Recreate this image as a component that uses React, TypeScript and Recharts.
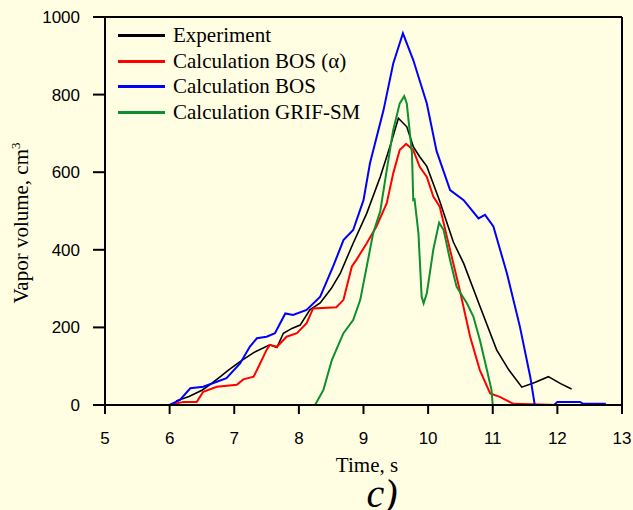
import React from "react";
import { LineChart, Line, XAxis, YAxis, ReferenceLine } from "recharts";

// time (s) and vapor volume (cm3)
const expT = [6.1, 6.3, 6.5, 6.62, 6.8, 6.91, 7.09, 7.3, 7.55, 7.66, 7.76, 7.9, 8.02, 8.17, 8.33, 8.5, 8.64, 8.84, 9.05, 9.26, 9.41, 9.54, 9.67, 9.77, 9.87, 9.98, 10.08, 10.18, 10.3, 10.39, 10.55, 10.8, 11.06, 11.25, 11.45, 11.65, 11.86, 12.05, 12.22];
const expV = [10, 22, 38, 52, 75, 90, 112, 135, 155, 148, 185, 198, 206, 245, 263, 300, 339, 417, 494, 588, 666, 739, 717, 666, 640, 615, 570, 525, 465, 420, 365, 255, 142, 90, 46, 58, 73, 55, 41];

const bosAT = [5, 6.0, 6.21, 6.42, 6.52, 6.73, 7.04, 7.14, 7.3, 7.4, 7.5, 7.55, 7.66, 7.81, 7.97, 8.12, 8.22, 8.58, 8.69, 8.82, 8.89, 9.05, 9.2, 9.36, 9.46, 9.56, 9.66, 9.77, 9.87, 9.98, 10.08, 10.18, 10.29, 10.49, 10.65, 10.8, 10.96, 11.11, 11.32, 12.0];
const bosAV = [0, 0, 8, 8, 34, 47, 52, 66, 73, 107, 142, 155, 150, 176, 185, 211, 249, 252, 271, 357, 374, 417, 460, 520, 597, 657, 673, 657, 614, 588, 537, 511, 434, 296, 176, 90, 30, 21, 3, 0];

const bosT = [5, 6.0, 6.16, 6.32, 6.52, 6.73, 6.88, 7.09, 7.24, 7.35, 7.5, 7.63, 7.79, 7.91, 8.12, 8.33, 8.53, 8.69, 8.84, 9.0, 9.1, 9.31, 9.46, 9.61, 9.77, 9.98, 10.13, 10.34, 10.55, 10.78, 10.88, 11.01, 11.22, 11.42, 11.58, 11.65, 11.95, 12.0, 12.35, 12.4, 12.75];
const bosV = [0, 0, 13, 43, 47, 60, 69, 107, 150, 172, 176, 185, 236, 232, 245, 279, 357, 425, 451, 528, 623, 760, 880, 958, 889, 777, 655, 554, 528, 481, 490, 460, 339, 202, 73, 0, 0, 8, 8, 3, 3];

const grifT = [5, 8.25, 8.38, 8.51, 8.69, 8.84, 8.95, 9.05, 9.15, 9.26, 9.36, 9.46, 9.56, 9.63, 9.67, 9.75, 9.77, 9.79, 9.85, 9.9, 9.93, 9.98, 10.08, 10.17, 10.24, 10.34, 10.44, 10.6, 10.7, 10.8, 10.91, 10.98, 11.0, 13];
const grifV = [0, 0, 39, 116, 185, 219, 271, 357, 443, 500, 606, 709, 777, 796, 777, 649, 528, 530, 443, 279, 262, 288, 400, 470, 451, 373, 305, 262, 228, 168, 90, 39, 0, 0];

const xTicks = [5, 6, 7, 8, 9, 10, 11, 12, 13];
const yTicks = [0, 200, 400, 600, 800, 1000];

const series = [
  { name: "Experiment", t: expT, v: expV, color: "#000000", width: 1.6 },
  { name: "Calculation BOS (\u03b1)", t: bosAT, v: bosAV, color: "#ff0000", width: 2 },
  { name: "Calculation BOS", t: bosT, v: bosV, color: "#0000ff", width: 2 },
  { name: "Calculation GRIF-SM", t: grifT, v: grifV, color: "#0c8f2c", width: 2 },
];

const toPoints = (t: number[], v: number[]) => t.map((x, i) => ({ t: x, v: v[i] }));

const serif = "'Liberation Serif', 'Times New Roman', serif";
const sans = "'Liberation Sans', Arial, sans-serif";

export default function App() {
  return (
    <div style={{ position: "absolute", left: 0, top: 0, width: 633, height: 510, background: "#fffee3", overflow: "hidden" }}>
      <LineChart width={633} height={510} margin={{ top: 17, right: 11, bottom: 0, left: 0 }}>
        <XAxis
          type="number"
          dataKey="t"
          domain={[5, 13]}
          ticks={xTicks}
          allowDataOverflow
          height={105}
          axisLine={{ stroke: "#000", strokeWidth: 2 }}
          tickLine={{ stroke: "#000", strokeWidth: 2 }}
          tickSize={9}
          tickMargin={18}
          tick={{ fill: "#000", fontSize: 17, fontFamily: sans }}
        />
        <YAxis
          type="number"
          dataKey="v"
          domain={[0, 1000]}
          ticks={yTicks}
          allowDataOverflow
          width={105}
          axisLine={{ stroke: "#000", strokeWidth: 2 }}
          tickLine={{ stroke: "#000", strokeWidth: 2 }}
          tickSize={12}
          tickMargin={13}
          tick={{ fill: "#000", fontSize: 17, fontFamily: sans }}
        />
        <ReferenceLine y={1000} stroke="#000" strokeWidth={2} />
        <ReferenceLine x={13} stroke="#000" strokeWidth={2} />
        {series.map((s) => (
          <Line
            key={s.name}
            data={toPoints(s.t, s.v)}
            dataKey="v"
            name={s.name}
            type="linear"
            stroke={s.color}
            strokeWidth={s.width}
            dot={false}
            isAnimationActive={false}
          />
        ))}
      </LineChart>
      <div style={{ position: "absolute", left: 118, top: 23, fontFamily: serif, fontSize: 21, color: "#000" }}>
        {series.map((s) => (
          <div key={s.name} style={{ display: "flex", alignItems: "center", height: 25.5, whiteSpace: "nowrap" }}>
            <span style={{ display: "inline-block", width: 47, height: 3, background: s.color, marginRight: 8 }} />
            <span>{s.name}</span>
          </div>
        ))}
      </div>
      <div
        style={{
          position: "absolute",
          left: 21,
          top: 223,
          transform: "translate(-50%, -50%) rotate(-90deg)",
          whiteSpace: "nowrap",
          fontFamily: serif,
          fontSize: 21,
          color: "#000",
        }}
      >
        Vapor volume, cm<sup style={{ fontSize: 13 }}>3</sup>
      </div>
      <div
        style={{
          position: "absolute",
          left: 367,
          top: 465,
          transform: "translate(-50%, -50%)",
          whiteSpace: "nowrap",
          fontFamily: serif,
          fontSize: 21,
          color: "#000",
        }}
      >
        Time, s
      </div>
      <div
        style={{
          position: "absolute",
          left: 382,
          top: 494,
          transform: "translate(-50%, -50%)",
          fontFamily: serif,
          fontStyle: "italic",
          fontSize: 40,
          lineHeight: "40px",
          color: "#000",
        }}
      >
        c)
      </div>
    </div>
  );
}
